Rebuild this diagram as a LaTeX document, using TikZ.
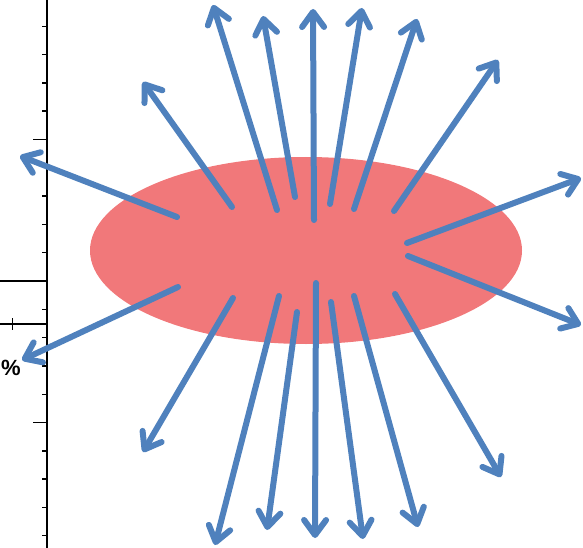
\documentclass[tikz,border=0pt]{standalone}
\usepackage{fontspec}
\setsansfont{Liberation Sans}
\usepackage{tikz}
\usetikzlibrary{
  arrows.meta,
  shapes.geometric
}
\definecolor{blobred}{RGB}{241,120,122}
\definecolor{rayblue}{RGB}{79,129,189}
\tikzset{
  blob/.style={ellipse, fill=blobred, inner sep=0pt,
    minimum width=432pt, minimum height=187pt},
  ray/.style={rayblue, line width=6pt, line cap=round,
    -{Straight Barb[length=15pt, width=22pt, round]}},
  axline/.style={black, line width=2pt},
  axtick/.style={black, line width=1.4pt},
}

\begin{document}
\begin{tikzpicture}[x=1pt, y=-1pt]
  \useasboundingbox (0,0) rectangle (583,548);

  % Axis piece on the left
  \coordinate (axtop) at (47,0);
  \coordinate (axbot) at (47,548);
  \draw[axline] (axtop) -- (axbot);
  \foreach \k in {0,...,18} {
    \pgfmathsetmacro{\ty}{26.3+28.3*\k}
    \draw[axtick] (42,\ty) -- (47,\ty);
  }
  \foreach \k in {4,14} {
    \pgfmathsetmacro{\ty}{26.3+28.3*\k}
    \draw[axtick] (33,\ty) -- (47,\ty);
  }
  \draw[axtick] (0,281) -- (47,281);
  \draw[axtick, line width=2pt] (33,281) -- (47,281);
  \draw[axtick] (0,324) -- (47,324);
  \draw[axtick] (12.3,318) -- (12.3,330);
  \node[anchor=base east, inner sep=0pt,
        font=\sffamily\bfseries\fontsize{22}{26}\selectfont] (pct) at (21,375) {\%};

  % The blob
  \node[blob] (core) at (306,250.5) {};

  % Rays out of the blob
  \foreach \i/\sx/\sy/\ex/\ey in {
      1/177/217/20/156, 2/232/207/143/82, 3/277/210/213/5,
      4/295/197/263/16, 5/314/220/313/9, 6/330/204/362/8,
      7/354/209/417/19, 8/394/211/498/60, 9/407/243/581/178,
      10/408/256/581/325, 11/395/294/501/477, 12/354/296/418/527,
      13/331/302/363/539, 14/316/283/315/538, 15/297/312/267/530,
      16/279/296/215/545, 17/233/298/143/452, 18/178/287/22/360} {
    \coordinate (s\i) at (\sx,\sy);
    \coordinate (e\i) at (\ex,\ey);
    \draw[ray] (s\i) -- (e\i);
  }
\end{tikzpicture}
\end{document}
